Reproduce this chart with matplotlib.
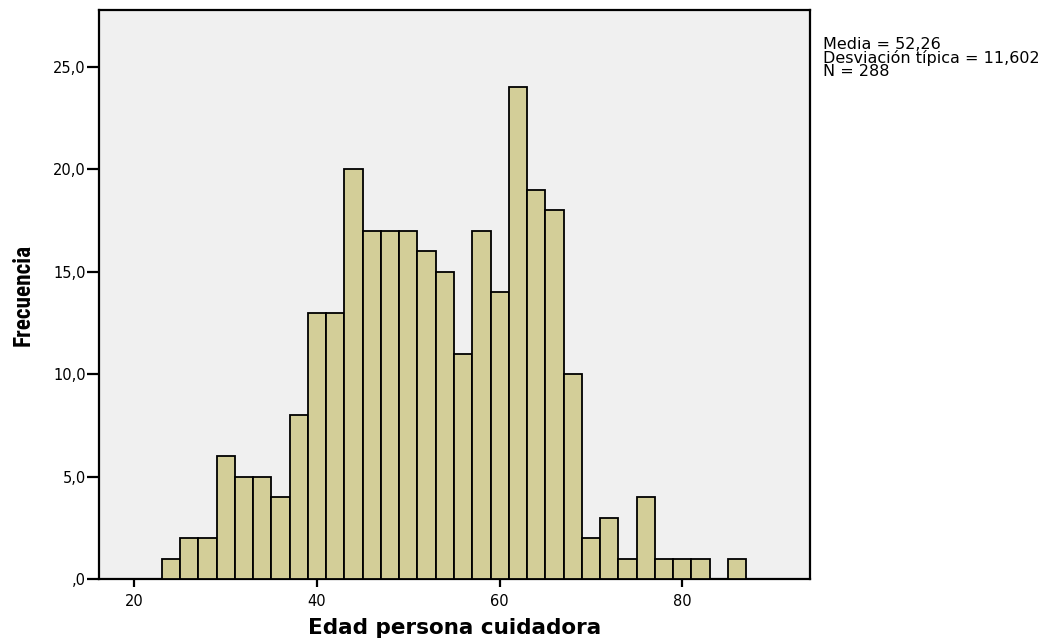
import matplotlib
matplotlib.use("Agg")
import matplotlib.pyplot as plt
from matplotlib.ticker import FuncFormatter
from matplotlib import font_manager
from matplotlib.font_manager import FontProperties

bin_edges = [23 + 2 * i for i in range(33)]
counts = [1, 2, 2, 6, 5, 5, 4, 8, 13, 13, 20, 17, 17, 17, 16, 15, 11, 17, 14, 24,
          19, 18, 10, 2, 3, 1, 4, 1, 1, 1, 0, 1]
x_ticks = [20, 40, 60, 80]
y_ticks = [0, 5, 10, 15, 20, 25]
stats_text = "Media = 52,26\nDesviación típica = 11,602\nN = 288"
xlabel = "Edad persona cuidadora"
ylabel = "Frecuencia"

plt.rcParams['font.family'] = ['DejaVu Sans']

fig = plt.figure(figsize=(10.51, 6.41), dpi=100)
ax = fig.add_axes([99/1051, 62/641, (810-99)/1051, (579-10)/641])
ax.set_facecolor('#F0F0F0')

lefts = bin_edges[:-1]
widths = [b - a for a, b in zip(bin_edges[:-1], bin_edges[1:])]
ax.bar(lefts, counts, width=widths, align='edge', color='#D3CE98',
       edgecolor='black', linewidth=1.3, zorder=3)

ax.set_xlim(16.13, 93.98)
ax.set_ylim(0, 27.78)
ax.set_xticks(x_ticks)
ax.set_yticks(y_ticks)

def yfmt(v, pos):
    s = f"{v:.1f}".replace('.', ',')
    if s.startswith('0,'):
        s = s[1:]
    return s

ax.yaxis.set_major_formatter(FuncFormatter(yfmt))
ax.tick_params(axis='x', direction='out', length=6, width=1.6, labelsize=10.5,
               colors='black', pad=5)
ax.tick_params(axis='y', direction='out', length=9, width=1.6, labelsize=10.5,
               colors='black', pad=0.5)
for sp in ax.spines.values():
    sp.set_linewidth(1.6)

ax.set_xlabel(xlabel, fontsize=15, fontweight='bold')
ax.xaxis.set_label_coords((455-99)/711, -(618-579)/569)

# condensed bold font for the y label, if one is installed
cond = None
prefs = ['LiberationSansNarrow-Bold', 'RobotoCondensed-Bold', 'OpenSans_Condensed-Bold',
         'OpenSansCondensed-Bold', 'DejaVuSansCondensed-Bold', 'Roboto-Bold']
files = [f.fname for f in font_manager.fontManager.ttflist]
for p in prefs:
    hits = [f for f in files if p.lower() in f.lower().replace(' ', '')]
    if hits:
        cond = hits[0]
        break
if cond:
    yprop = FontProperties(fname=cond, size=16)
else:
    yprop = FontProperties(family='Liberation Sans', weight='bold', size=15)
ax.set_ylabel(ylabel, fontproperties=yprop)
ax.yaxis.set_label_coords(-(99-12)/711, 0.5)
ax.yaxis.label.set_va('top')

st = fig.text(823/1051, 1 - 37/641, stats_text, fontsize=11.5, va='top', ha='left',
              linespacing=0.84)

# fit label sizes to the reference text extents
fig.canvas.draw()
r = fig.canvas.get_renderer()
yl = ax.yaxis.label
h = yl.get_window_extent(r).height
yl.set_fontsize(yl.get_fontsize() * 102 / h)
xl = ax.xaxis.label
w = xl.get_window_extent(r).width
xl.set_fontsize(min(xl.get_fontsize() * 301 / w, 15.5))

fig.savefig("out.png", dpi=100)
